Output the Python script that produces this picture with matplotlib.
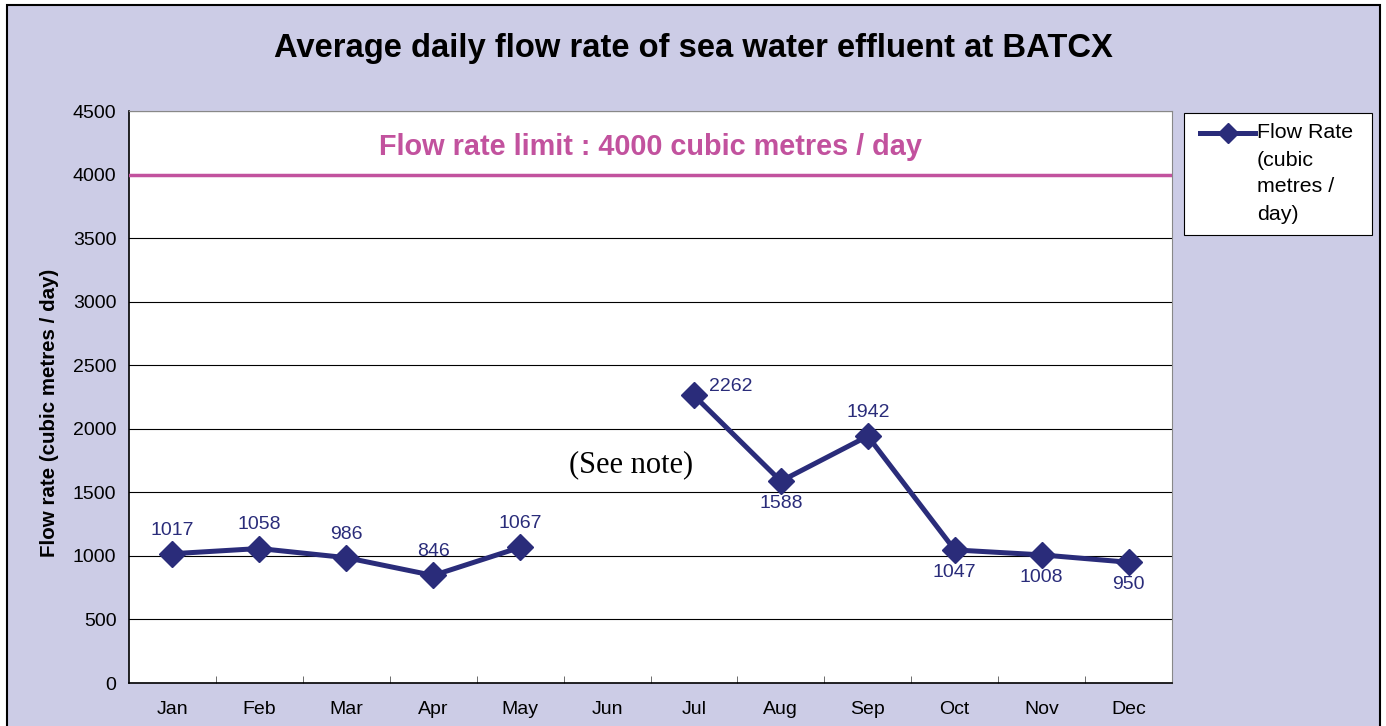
import matplotlib.pyplot as plt
from matplotlib.patches import Rectangle
from matplotlib.lines import Line2D
import numpy as np

plt.rcParams['font.family'] = ['Liberation Sans', 'DejaVu Sans']

months = ['Jan', 'Feb', 'Mar', 'Apr', 'May', 'Jun', 'Jul', 'Aug', 'Sep', 'Oct', 'Nov', 'Dec']
flow = [1017, 1058, 986, 846, 1067, np.nan, 2262, 1588, 1942, 1047, 1008, 950]
label_pos = ['above', 'above', 'above', 'above', 'above', None,
             'right', 'below', 'above', 'below', 'below', 'below']
limit = 4000
legend_lines = ['Flow Rate', '(cubic', 'metres /', 'day)']

bg = '#CCCCE6'
navy = '#2A2C7A'
pink = '#C2529E'
W, H = 1386, 726

fig = plt.figure(figsize=(W / 100, H / 100), dpi=100, facecolor='white')
# lavender chart area with a black frame; a thin white margin is left outside it
fig.patches.append(Rectangle((7 / W, -0.01), (1380 - 7) / W, 1.01 - 5 / H, transform=fig.transFigure,
                             facecolor=bg, edgecolor='black', lw=1.5, zorder=-1))

ax = fig.add_axes([129 / W, 1 - 683 / H, (1172 - 129) / W, (683 - 111) / H])
ax.set_facecolor('white')

x = np.arange(len(months))
ax.plot(x, flow, color=navy, lw=3.6, marker='D', markersize=13, zorder=5)

for xi, v, pos in zip(x, flow, label_pos):
    if pos is None:
        continue
    if pos == 'above':
        off, ha = (0, 17), 'center'
    elif pos == 'below':
        off, ha = (0, -16), 'center'
    else:
        off, ha = (11, 6.5), 'left'
    ax.annotate(str(v), (xi, v), xytext=off, textcoords='offset points',
                ha=ha, va='center', color=navy, fontsize=14)

ax.axhline(limit, color=pink, lw=2.5, zorder=4)
ax.text(5.5, 4217, 'Flow rate limit : 4000 cubic metres / day', color=pink,
        fontsize=20.8, fontweight='bold', ha='center', va='center')
ax.text(5.28, 1715, '(See note)', family=['Liberation Serif', 'DejaVu Serif'],
        fontsize=22, ha='center', va='center')

ax.set_xlim(-0.5, len(months) - 0.5)
ax.set_ylim(0, 4500)
ax.set_yticks(np.arange(0, 4501, 500))
ax.yaxis.grid(True, color='black', lw=0.8)
ax.set_axisbelow(True)
ax.set_xticks(x)
ax.set_xticklabels(months)
ax.set_xticks(np.arange(0.5, len(months) - 0.5, 1), minor=True)
ax.tick_params(axis='x', which='major', length=0, pad=13, labelsize=14)
ax.tick_params(axis='x', which='minor', direction='in', length=5, color='#555555')
ax.tick_params(axis='y', length=0, pad=9, labelsize=14)
ax.set_ylabel('Flow rate (cubic metres / day)', fontsize=14.8, fontweight='bold', labelpad=10)
ax.yaxis.label.set_y((683 - 413) / 572)

for s in ['top', 'right']:
    ax.spines[s].set_color('#888888')
for s in ['left', 'bottom']:
    ax.spines[s].set_color('black')
    ax.spines[s].set_linewidth(1.2)

fig.suptitle('Average daily flow rate of sea water effluent at BATCX', fontsize=23.6,
             fontweight='bold', y=1 - 48 / H, va='center')

# legend box drawn by hand so the marker sits beside the first line
fig.patches.append(Rectangle((1184 / W, 1 - 235 / H), (1372 - 1184) / W, (235 - 113) / H,
                             transform=fig.transFigure, facecolor='white', edgecolor='black', lw=0.8))
fig.lines.append(Line2D([1200 / W, 1255 / W], [1 - 133 / H, 1 - 133 / H], transform=fig.transFigure,
                        color=navy, lw=3.6))
fig.lines.append(Line2D([1228 / W], [1 - 133 / H], transform=fig.transFigure, color=navy,
                        marker='D', markersize=10))
for i, t in enumerate(legend_lines):
    fig.text(1257 / W, 1 - (133 + 27 * i) / H, t, fontsize=15.4, ha='left', va='center')

fig.savefig('out.png', dpi=100, facecolor='white')
